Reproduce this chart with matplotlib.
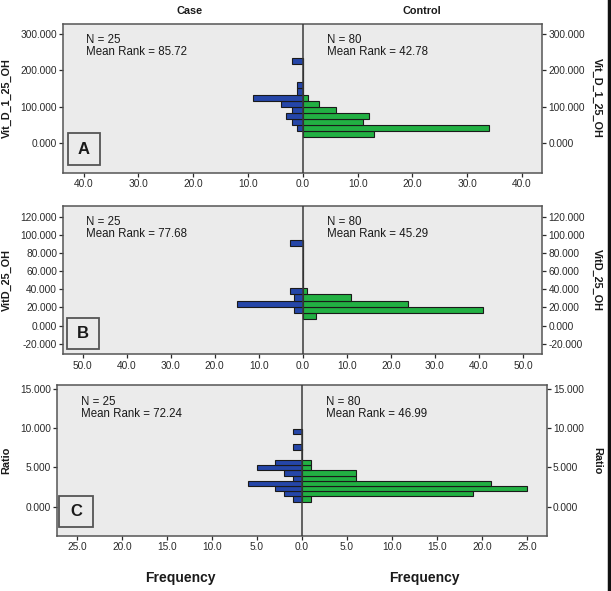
import matplotlib
matplotlib.use('Agg')
import matplotlib.pyplot as plt
from matplotlib.ticker import FuncFormatter, FormatStrFormatter

plt.rcParams['font.family'] = ['Liberation Sans', 'DejaVu Sans']

W, H = 611, 591

# panel A: Vit_D_1_25_OH histogram (bin lower edges, counts)
a_edges = [16.0, 32.7, 49.4, 66.1, 82.8, 99.5, 116.2, 132.9, 149.6, 166.3, 183.0, 199.7, 216.4]
a_width = 16.7
a_case = [0, 1, 2, 3, 2, 4, 9, 1, 1, 0, 0, 0, 2]
a_ctrl = [13, 34, 11, 12, 6, 3, 1, 0, 0, 0, 0, 0, 0]

# panel B: VitD_25_OH
b_edges = [7.5, 14.2, 20.9, 27.6, 34.3, 41.0, 47.7, 54.4, 61.1, 67.8, 74.5, 81.2, 87.9]
b_width = 6.7
b_case = [0, 2, 15, 2, 3, 0, 0, 0, 0, 0, 0, 0, 3]
b_ctrl = [3, 41, 24, 11, 1, 0, 0, 0, 0, 0, 0, 0, 0]

# panel C: Ratio
c_edges = [0.64, 1.30, 1.97, 2.63, 3.30, 3.96, 4.62, 5.29, 5.95, 6.62, 7.28, 7.94, 8.61, 9.27]
c_width = 0.664
c_case = [1, 2, 3, 6, 1, 2, 5, 3, 0, 0, 1, 0, 0, 1]
c_ctrl = [1, 19, 25, 21, 6, 6, 1, 1, 0, 0, 0, 0, 0, 0]

panels = [
    dict(edges=a_edges, width=a_width, case=a_case, ctrl=a_ctrl, name='Vit_D_1_25_OH', letter='A',
         yticks=[0, 100, 200, 300], ylim=(-82, 327), xticks=range(-40, 41, 10), xlim=43.7,
         n=(25, 80), rank=(85.72, 42.78), box=(63.3, 24, 542.3, 172.7), lbox=(68, 133, 100, 165)),
    dict(edges=b_edges, width=b_width, case=b_case, ctrl=b_ctrl, name='VitD_25_OH', letter='B',
         yticks=range(-20, 121, 20), ylim=(-31.5, 132), xticks=range(-50, 51, 10), xlim=54.4,
         n=(25, 80), rank=(77.68, 45.29), box=(63.3, 205.7, 542.3, 354.3), lbox=(66.7, 317.7, 99.3, 349.3)),
    dict(edges=c_edges, width=c_width, case=c_case, ctrl=c_ctrl, name='Ratio', letter='C',
         yticks=[0, 5, 10, 15], ylim=(-3.74, 15.5), xticks=range(-25, 26, 5), xlim=27.2,
         n=(25, 80), rank=(72.24, 46.99), box=(57.3, 385, 546.7, 536), lbox=(59, 496, 93, 527)),
]

blue = '#2546a8'
green = '#22b043'

fig = plt.figure(figsize=(W / 100, H / 100), dpi=100)


def fx(x):
    return x / W


def fy(y):
    return 1 - y / H


for p in panels:
    l, t, r, b = p['box']
    ax = fig.add_axes([fx(l), fy(b), (r - l) / W, (b - t) / H])
    ax.set_facecolor('#ebebeb')
    centers = [e + p['width'] / 2 for e in p['edges']]
    ax.barh(centers, [-v for v in p['case']], height=p['width'], color=blue,
            edgecolor='#1a1a1a', linewidth=0.8, zorder=2)
    ax.barh(centers, p['ctrl'], height=p['width'], color=green,
            edgecolor='#1a1a1a', linewidth=0.8, zorder=2)
    ax.axvline(0, color='#3a3a3a', lw=1.1, zorder=3)
    ax.set_xlim(-p['xlim'], p['xlim'])
    ax.set_ylim(*p['ylim'])
    ax.set_xticks(list(p['xticks']))
    ax.set_yticks(list(p['yticks']))
    ax.xaxis.set_major_formatter(FuncFormatter(lambda v, pos: '%.1f' % abs(v)))
    ax.yaxis.set_major_formatter(FormatStrFormatter('%.3f'))
    ax.tick_params(axis='both', labelsize=7.3, colors='#2a2a2a', length=3, width=0.9, pad=1.5)
    ax.tick_params(axis='y', left=True, right=True, labelleft=True, labelright=True)
    for s in ax.spines.values():
        s.set_color('#555555')
        s.set_linewidth(1.1)

    ax.text(0.048, 0.93, 'N = %d\nMean Rank = %.2f' % (p['n'][0], p['rank'][0]),
            transform=ax.transAxes, fontsize=8.3, va='top', ha='left', linespacing=1.0, color='#1a1a1a')
    ax.text(0.55, 0.93, 'N = %d\nMean Rank = %.2f' % (p['n'][1], p['rank'][1]),
            transform=ax.transAxes, fontsize=8.3, va='top', ha='left', linespacing=1.0, color='#1a1a1a')

    bl, bt, br, bb = p['lbox']
    fig.text(fx((bl + br) / 2), fy((bt + bb) / 2), p['letter'], fontsize=12, fontweight='bold',
             ha='center', va='center', color='#1a1a1a')
    fig.patches.append(plt.Rectangle((fx(bl), fy(bb)), (br - bl) / W, (bb - bt) / H,
                                     transform=fig.transFigure, fill=False,
                                     edgecolor='#555555', lw=1.3, zorder=5))

    yc = fy((t + b) / 2)
    fig.text(fx(6.5), yc, p['name'], rotation=90, fontsize=7.8, fontweight='bold',
             ha='center', va='center', color='#1a1a1a')
    fig.text(fx(597), yc, p['name'], rotation=270, fontsize=7.8, fontweight='bold',
             ha='center', va='center', color='#1a1a1a')

fig.text(fx(190), fy(11), 'Case', fontsize=7.8, fontweight='bold', ha='center', va='center', color='#1a1a1a')
fig.text(fx(422), fy(11), 'Control', fontsize=7.8, fontweight='bold', ha='center', va='center', color='#1a1a1a')
fig.text(fx(180), fy(578), 'Frequency', fontsize=10, fontweight='bold', ha='center', va='center', color='#1a1a1a')
fig.text(fx(424), fy(578), 'Frequency', fontsize=10, fontweight='bold', ha='center', va='center', color='#1a1a1a')

# dark edge on the right of the image
fig.add_artist(plt.Line2D([fx(608.5), fx(608.5)], [0, 1], color='#111111', lw=2.5))

fig.savefig('out.png', dpi=100)
